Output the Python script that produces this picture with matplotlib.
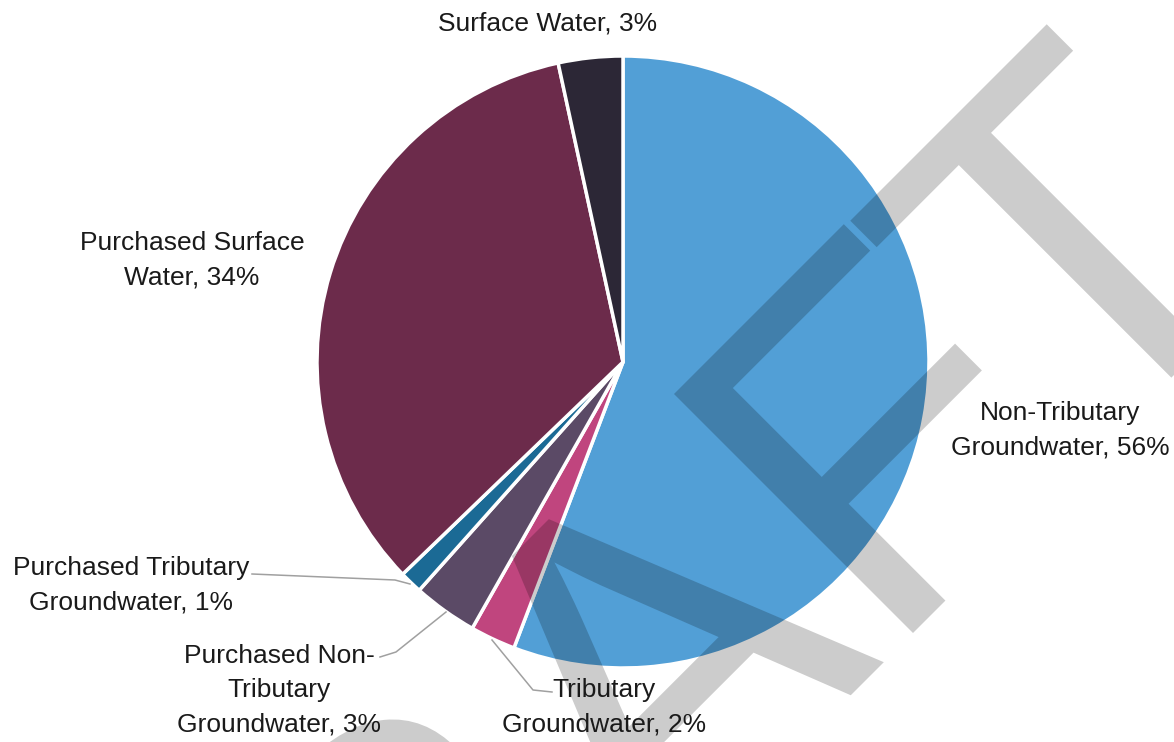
import matplotlib
matplotlib.use("Agg")
import matplotlib.pyplot as plt
import numpy as np
from matplotlib.textpath import TextPath
from matplotlib.patches import PathPatch
from matplotlib.font_manager import FontProperties
from matplotlib.transforms import Affine2D

# ---- data ----
categories = ["Non-Tributary\nGroundwater", "Tributary\nGroundwater",
              "Purchased Non-\nTributary\nGroundwater", "Purchased Tributary\nGroundwater",
              "Purchased Surface\nWater", "Surface Water"]
values = [55.8, 2.4, 3.4, 1.2, 33.8, 3.4]
colors = ["#529fd6", "#c0457e", "#5b4a66", "#1b6a95", "#6c2b4b", "#2c2736"]
watermark = "DRAFT"

W, H = 1174, 742
fig = plt.figure(figsize=(W / 100, H / 100), dpi=100)
ax = fig.add_axes([0, 0, 1, 1])

def Y(y):  # screen y -> data y
    return H - y

cx, cy, r = 623, 362, 306
wedges, _ = ax.pie(values, colors=colors, startangle=90, counterclock=False,
                   center=(cx, Y(cy)), radius=r, frame=True,
                   wedgeprops=dict(edgecolor="white", linewidth=2.5))
ax.set_xlim(0, W)
ax.set_ylim(0, H)
ax.set_aspect("equal")
ax.axis("off")

font = ["Liberation Sans Narrow", "Liberation Sans", "DejaVu Sans"]
fs = 19
labels = [f"{c}, {round(v)}%" for c, v in zip(categories, values)]
label_pos = [(1060, 430), (604, 707), (279, 690), (131, 585), (192, 260), (548, 24)]
for lab, (x, y) in zip(labels, label_pos):
    ax.text(x, Y(y), lab, ha="center", va="center", fontsize=fs, family=font,
            linespacing=1.55, color="#1a1a1a", zorder=6)

# leader lines
lc = "#a0a0a0"
leaders = [
    [(492, 640), (533, 690), (552, 692)],
    [(380, 657), (396, 652), (446, 612)],
    [(252, 574), (395, 580), (410, 584)],
]
for pts in leaders:
    xs = [p[0] for p in pts]
    ys = [Y(p[1]) for p in pts]
    ax.plot(xs, ys, color=lc, lw=1.1, zorder=4)

# ---- DRAFT watermark ----
fp = FontProperties(family="Liberation Sans")
base = 100
tp_head = TextPath((0, 0), watermark[:-1], size=base, prop=fp)
tp_dra = TextPath((0, 0), watermark[:3], size=base, prop=fp)
tp_f = TextPath((0, 0), watermark[3], size=base, prop=fp)
tp_t = TextPath((0, 0), watermark[4], size=base, prop=fp)
cap = tp_f.get_extents().height
xmax_a = tp_dra.get_extents().x1
v = tp_head.vertices
f_left = v[v[:, 0] > xmax_a + 0.5][:, 0].min()
scale = 338.0 / cap
tr = (Affine2D().translate(-f_left, 0).scale(scale).rotate_deg(45)
      .translate(913, Y(633)))
wm_kw = dict(facecolor="black", edgecolor="none", alpha=0.2, zorder=5, clip_on=False)
ax.add_patch(PathPatch(tp_head, transform=tr + ax.transData, **wm_kw))
tb = tp_t.get_extents()
tr_t = (Affine2D().translate(-(tb.x0 + tb.x1) / 2, -tb.y1).scale(scale).rotate_deg(45)
        .translate(948.5, Y(122.5)))
ax.add_patch(PathPatch(tp_t, transform=tr_t + ax.transData, **wm_kw))

fig.savefig("out.png", dpi=100, facecolor="white")
